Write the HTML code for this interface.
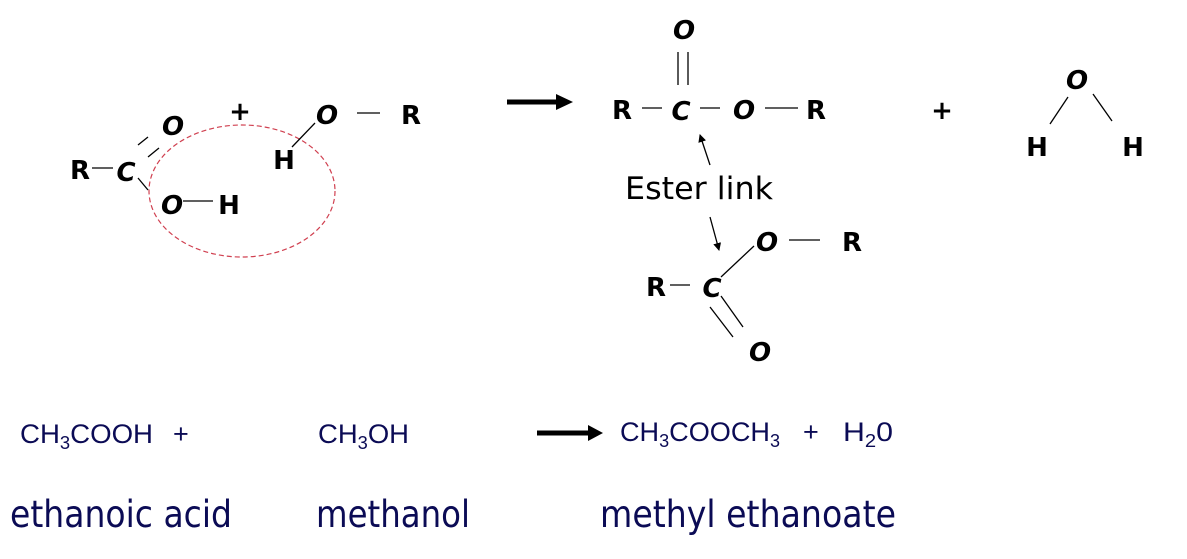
<!DOCTYPE html>
<html><head><meta charset="utf-8"><style>
html,body{margin:0;padding:0;background:#fff;width:1187px;height:559px;overflow:hidden}
svg{display:block}
.a{font-family:"DejaVu Sans","Liberation Sans",sans-serif;font-weight:bold;font-size:26px;fill:#000;text-anchor:middle}
.i{font-style:italic}
.f{font-family:"Liberation Sans",sans-serif;font-size:27px;fill:#0b0b55}
.n{font-family:"DejaVu Sans","Liberation Sans",sans-serif;font-size:37px;fill:#0b0b55}
line{stroke:#000;stroke-width:1.3}
</style></head><body>
<svg width="1187" height="559" viewBox="0 0 1187 559">
<defs><marker id="ah" markerWidth="8" markerHeight="8" refX="7" refY="4" orient="auto" markerUnits="userSpaceOnUse"><path d="M0,0 L8,4 L0,8 z" fill="#000"/></marker></defs>
<text class="a" x="80" y="179">R</text>
<line x1="92" y1="168" x2="113" y2="168"/>
<text class="a i" x="126" y="181">C</text>
<line x1="138" y1="145" x2="148" y2="137"/>
<line x1="148" y1="157" x2="159" y2="148"/>
<line x1="138" y1="178" x2="148" y2="190"/>
<text class="a i" x="173" y="135">O</text>
<text class="a i" x="172" y="214">O</text>
<line x1="183" y1="201" x2="213" y2="201"/>
<text class="a" x="229" y="214">H</text>
<ellipse cx="242" cy="191" rx="93" ry="66" fill="none" stroke="#d04050" stroke-width="1.2" stroke-dasharray="5,3"/>
<text class="a" x="240" y="120">+</text>
<text class="a i" x="327" y="124">O</text>
<line x1="292" y1="147" x2="315" y2="123"/>
<text class="a" x="284" y="169">H</text>
<line x1="357" y1="113" x2="380" y2="113"/>
<text class="a" x="411" y="124">R</text>
<line x1="507" y1="102" x2="560" y2="102" style="stroke-width:5"/>
<path d="M556,94 L573,102 L556,110 z" fill="#000"/>
<text class="a i" x="684" y="39">O</text>
<line x1="678" y1="52" x2="678" y2="85"/>
<line x1="688" y1="52" x2="688" y2="85"/>
<text class="a" x="622" y="119">R</text>
<line x1="642" y1="108" x2="662" y2="108"/>
<text class="a i" x="681" y="120">C</text>
<line x1="700" y1="108" x2="720" y2="108"/>
<text class="a i" x="744" y="119">O</text>
<line x1="765" y1="108" x2="798" y2="108"/>
<text class="a" x="816" y="119">R</text>
<line x1="710" y1="165" x2="700" y2="135" marker-end="url(#ah)"/>
<text x="625" y="199" style="font-family:'DejaVu Sans',sans-serif;font-size:31px;fill:#000" textLength="148" lengthAdjust="spacingAndGlyphs">Ester link</text>
<line x1="710" y1="217" x2="719" y2="250" marker-end="url(#ah)"/>
<text class="a i" x="767" y="251">O</text>
<line x1="789" y1="240" x2="820" y2="240"/>
<text class="a" x="852" y="251">R</text>
<text class="a" x="656" y="296">R</text>
<line x1="670" y1="285" x2="690" y2="285"/>
<text class="a i" x="712" y="297">C</text>
<line x1="721" y1="277" x2="754" y2="246"/>
<line x1="710" y1="307" x2="733" y2="337"/>
<line x1="721" y1="296" x2="743" y2="327"/>
<text class="a i" x="760" y="361">O</text>
<text class="a" x="942" y="119">+</text>
<text class="a i" x="1077" y="89">O</text>
<line x1="1050" y1="124" x2="1068" y2="97"/>
<line x1="1093" y1="94" x2="1112" y2="121"/>
<text class="a" x="1037" y="156">H</text>
<text class="a" x="1133" y="156">H</text>
<text class="f" x="20" y="443" textLength="133" lengthAdjust="spacingAndGlyphs">CH<tspan font-size="18" dy="6">3</tspan><tspan dy="-6">COOH</tspan></text>
<text class="f" x="173" y="443">+</text>
<text class="f" x="318" y="443" textLength="91" lengthAdjust="spacingAndGlyphs">CH<tspan font-size="18" dy="6">3</tspan><tspan dy="-6">OH</tspan></text>
<line x1="537" y1="433" x2="590" y2="433" style="stroke-width:5"/>
<path d="M588,425 L603,433 L588,441 z" fill="#000"/>
<text class="f" x="620" y="441" textLength="160" lengthAdjust="spacingAndGlyphs">CH<tspan font-size="18" dy="6">3</tspan><tspan dy="-6">COOCH</tspan><tspan font-size="18" dy="6">3</tspan></text>
<text class="f" x="803" y="441">+</text>
<text class="f" x="843" y="441" textLength="50" lengthAdjust="spacingAndGlyphs">H<tspan font-size="18" dy="6">2</tspan><tspan dy="-6">0</tspan></text>
<text class="n" x="10" y="527" textLength="222" lengthAdjust="spacingAndGlyphs">ethanoic acid</text>
<text class="n" x="316" y="527" textLength="154" lengthAdjust="spacingAndGlyphs">methanol</text>
<text class="n" x="600" y="527" textLength="296" lengthAdjust="spacingAndGlyphs">methyl ethanoate</text>
</svg>
</body></html>
